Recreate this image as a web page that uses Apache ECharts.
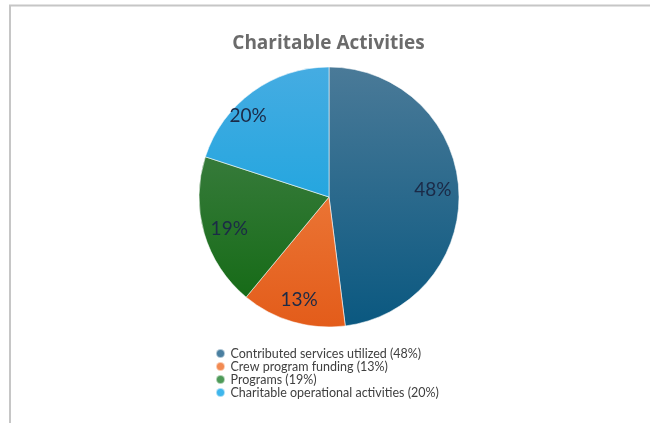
<!DOCTYPE html>
<html>
<head>
<meta charset="utf-8">
<script src="https://cdn.jsdelivr.net/npm/echarts@6/dist/echarts.min.js"></script>
<style>
html,body{margin:0;padding:0;background:#fff;}
#chart{width:650px;height:423px;}
</style>
</head>
<body>
<div id="chart"></div>
<script>
const categories = ['Contributed services utilized (48%)', 'Crew program funding (13%)', 'Programs (19%)', 'Charitable operational activities (20%)'];
const values = [48, 13, 19, 20];
const labels = ['48%', '13%', '19%', '20%'];
const topColors = ['#4a7a98', '#f28c4e', '#4a8450', '#45ace2'];
const bottomColors = ['#0a5880', '#e35c1a', '#106810', '#05a0dc'];
const legendColors = ['#4a7fa0', '#f28a52', '#4e9a58', '#3fb6ec'];

const chart = echarts.init(document.getElementById('chart'), null, {renderer: 'canvas'});
const cx = 329, cy = 197, R = 130;

const mainData = categories.map((name, i) => ({
  name: name,
  value: values[i],
  itemStyle: {
    color: {
      type: 'linear', global: true,
      x: 0, y: cy - R, x2: 0, y2: cy + R,
      colorStops: [{offset: 0, color: topColors[i]}, {offset: 1, color: bottomColors[i]}]
    }
  }
}));
const labelData = categories.map((name, i) => ({
  name: name,
  value: values[i],
  label: {formatter: labels[i]}
}));

chart.setOption({
  animation: false,
  title: {
    text: 'Charitable Activities',
    left: 323.5, top: 29, textAlign: 'center',
    textStyle: {fontFamily: 'Open Sans', fontWeight: 'bold', fontSize: 19, color: '#6b6b6b'}
  },
  legend: {
    orient: 'vertical',
    left: 210, top: 342,
    icon: 'circle',
    itemWidth: 10, itemHeight: 9,
    itemGap: 0,
    data: categories.map((c, i) => ({name: c, itemStyle: {color: legendColors[i]}})),
    textStyle: {fontFamily: 'Lato', fontSize: 12.5, color: '#404040', padding: [0, 0, 0, 0], lineHeight: 11}
  },
  graphic: [
    {type: 'line', shape: {x1: 9, y1: 5.5, x2: 650, y2: 5.5}, style: {stroke: '#c6c6c6', lineWidth: 2}, silent: true},
    {type: 'line', shape: {x1: 10, y1: 5, x2: 10, y2: 423}, style: {stroke: '#c6c6c6', lineWidth: 2}, silent: true}
  ],
  series: [
    {
      type: 'pie',
      center: [cx, cy],
      radius: [0, R],
      startAngle: 90,
      clockwise: true,
      silent: true,
      label: {show: false},
      labelLine: {show: false},
      itemStyle: {borderColor: 'rgba(255,255,255,0.55)', borderWidth: 1},
      data: mainData
    },
    {
      type: 'pie',
      center: [cx, cy],
      radius: [R * 0.62, R * 0.98],
      startAngle: 90,
      clockwise: true,
      silent: true,
      legendHoverLink: false,
      itemStyle: {color: 'rgba(0,0,0,0)', borderWidth: 0},
      label: {show: true, position: 'inside', fontFamily: 'Lato', fontSize: 19, color: '#1b2a47'},
      labelLine: {show: false},
      labelLayout: function (params) {
        if (params.dataIndex === 0) return {dx: -3, dy: 0};
        if (params.dataIndex === 3) return {dx: -18, dy: 5};
        if (params.dataIndex === 2) return {dx: 3, dy: 2};
        return {};
      },
      data: labelData
    }
  ]
});
</script>
</body>
</html>
